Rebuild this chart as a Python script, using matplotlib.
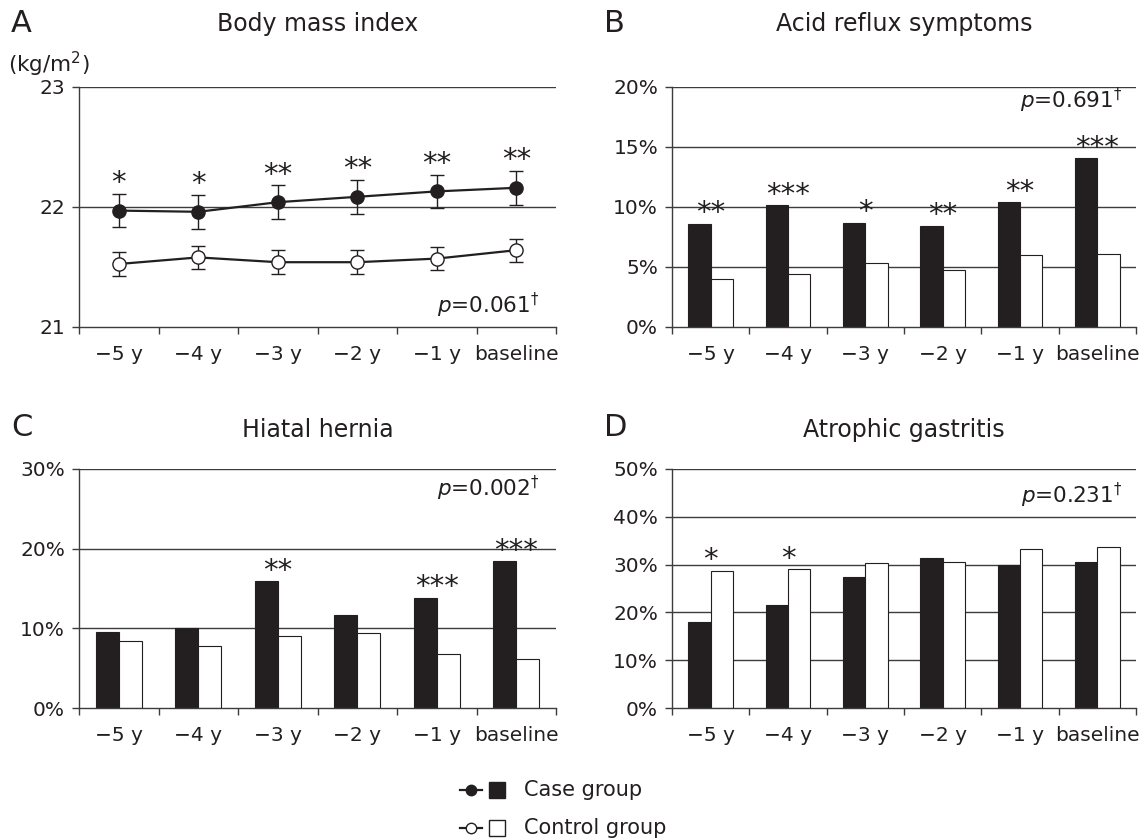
import numpy as np
import matplotlib
matplotlib.use("Agg")
import matplotlib.pyplot as plt
from matplotlib.lines import Line2D
from matplotlib.patches import Rectangle

# ---------------- data ----------------
categories = ["\u22125 y", "\u22124 y", "\u22123 y", "\u22122 y", "\u22121 y", "baseline"]

bmi_case = [21.97, 21.96, 22.04, 22.085, 22.13, 22.16]
bmi_case_err = [0.14, 0.14, 0.14, 0.14, 0.14, 0.14]
bmi_ctrl = [21.525, 21.58, 21.54, 21.54, 21.57, 21.64]
bmi_ctrl_err = [0.10, 0.095, 0.10, 0.10, 0.093, 0.096]
bmi_stars = ["*", "*", "**", "**", "**", "**"]

reflux_case = [8.6, 10.14, 8.7, 8.44, 10.39, 14.06]
reflux_ctrl = [4.0, 4.44, 5.36, 4.72, 5.97, 6.11]
reflux_stars = ["**", "***", "*", "**", "**", "***"]

hernia_case = [9.49, 10.0, 15.88, 11.62, 13.79, 18.39]
hernia_ctrl = [8.4, 7.77, 8.98, 9.4, 6.73, 6.1]
hernia_stars = ["", "", "**", "", "***", "***"]

atroph_case = [17.9, 21.6, 27.4, 31.3, 29.9, 30.6]
atroph_ctrl = [28.7, 29.0, 30.3, 30.6, 33.2, 33.6]
atroph_stars = ["*", "*", "", "", "", ""]

p_texts = ["0.061", "0.691", "0.002", "0.231"]
titles = ["Body mass index", "Acid reflux symptoms", "Hiatal hernia", "Atrophic gastritis"]
letters = ["A", "B", "C", "D"]

# ---------------- style ----------------
INK = "#231f20"
GRID = "#3c3c3c"
W, H = 1144, 840
TICK_FS = 14.5
plt.rcParams["font.family"] = ["DejaVu Sans"]
plt.rcParams["mathtext.fontset"] = "dejavusans"
plt.rcParams["text.color"] = INK

fig = plt.figure(figsize=(W / 100, H / 100), dpi=100)
fig.patch.set_facecolor("white")


def px_axes(left, top, right, bottom):
    return fig.add_axes([left / W, 1 - bottom / H, (right - left) / W, (bottom - top) / H])


def style_axes(ax, yticks, ylabels):
    n = len(categories)
    ax.set_xlim(0, n)
    ax.set_ylim(yticks[0], yticks[-1])
    ax.set_yticks(yticks)
    ax.set_yticklabels(ylabels, fontsize=TICK_FS, color=INK)
    ax.set_xticks(np.arange(n + 1))
    ax.set_xticklabels([])
    ax.set_xticks(np.arange(n) + 0.5, minor=True)
    ax.set_xticklabels(categories, minor=True, fontsize=TICK_FS, color=INK)
    ax.tick_params(axis="x", which="major", direction="out", length=5, width=1, color=GRID)
    ax.tick_params(axis="x", which="minor", length=0, pad=13)
    ax.tick_params(axis="y", direction="out", length=5, width=1, color=GRID, pad=5)
    for s in ["top", "right"]:
        ax.spines[s].set_visible(False)
    for s in ["left", "bottom"]:
        ax.spines[s].set_color(GRID)
        ax.spines[s].set_linewidth(1.0)
    for y in yticks[1:]:
        ax.axhline(y, color=GRID, lw=1.0, zorder=0.5)
    ax.set_axisbelow(True)


def add_stars(ax, xs, tops, stars):
    for x, t, s in zip(xs, tops, stars):
        if s:
            ax.annotate(s, (x, t), xytext=(0, 2), textcoords="offset points",
                        ha="center", va="baseline", fontsize=21, color=INK, zorder=5)


def bar_panel(ax, case, ctrl, stars, yticks, ylabels):
    style_axes(ax, yticks, ylabels)
    x = np.arange(len(categories)) + 0.5
    w = 0.29
    ax.bar(x - w / 2, case, w, color=INK, edgecolor=INK, lw=0.8, zorder=2)
    ax.bar(x + w / 2, ctrl, w, color="white", edgecolor=INK, lw=0.8, zorder=2)
    add_stars(ax, x, np.maximum(case, ctrl), stars)


# ---------------- panels ----------------
axA = px_axes(79, 87, 556, 327)
axB = px_axes(672, 87, 1136, 327)
axC = px_axes(79, 469, 556, 708)
axD = px_axes(672, 469, 1136, 708)

# A: BMI line chart
style_axes(axA, [21, 22, 23], ["21", "22", "23"])
xA = np.arange(len(categories)) + 0.5
axA.errorbar(xA, bmi_case, yerr=bmi_case_err, color=INK, lw=1.6, marker="o", ms=9.5,
             mfc=INK, mec=INK, capsize=5, elinewidth=1.0, capthick=1.0, zorder=3)
axA.errorbar(xA, bmi_ctrl, yerr=bmi_ctrl_err, color=INK, lw=1.6, marker="o", ms=9.5,
             mfc="white", mec=INK, mew=1.0, capsize=5, elinewidth=1.0, capthick=1.0, zorder=3)
add_stars(axA, xA, np.array(bmi_case) + np.array(bmi_case_err), bmi_stars)

bar_panel(axB, reflux_case, reflux_ctrl, reflux_stars, [0, 5, 10, 15, 20],
          ["0%", "5%", "10%", "15%", "20%"])
bar_panel(axC, hernia_case, hernia_ctrl, hernia_stars, [0, 10, 20, 30],
          ["0%", "10%", "20%", "30%"])
bar_panel(axD, atroph_case, atroph_ctrl, atroph_stars, [0, 10, 20, 30, 40, 50],
          ["0%", "10%", "20%", "30%", "40%", "50%"])

# p-values
p_pos = [(axA, 0.966, 0.092), (axB, 0.970, 0.946), (axC, 0.966, 0.92), (axD, 0.970, 0.891)]
for (ax, px, py), pt in zip(p_pos, p_texts):
    ax.text(px, py, r"$p$=" + pt + r"$^{\dagger}$", transform=ax.transAxes,
            ha="right", va="center", fontsize=15.5, color=INK)

# titles and panel letters (pixel rows)
title_rows = [24, 24, 430, 430]
letter_rows = [24, 24, 427, 427]
for ax, t, L, ty, ly in zip([axA, axB, axC, axD], titles, letters, title_rows, letter_rows):
    bb = ax.get_position()
    fig.text((bb.x0 + bb.x1) / 2, 1 - ty / H, t, ha="center", va="center",
             fontsize=17, color=INK)
    fig.text(bb.x0 - 68 / W, 1 - ly / H, L, ha="left", va="center",
             fontsize=22, color=INK)

fig.text(8 / W, 1 - 64 / H, "(kg/m$^2$)", ha="left", va="center", fontsize=15.5, color=INK)

# ---------------- legend ----------------
lg = fig.add_axes([0, 0, 1, 1], facecolor="none")
lg.set_xlim(0, W)
lg.set_ylim(H, 0)
lg.axis("off")
legend_labels = ["Case group", "Control group"]
legend_fill = [INK, "white"]
for i, (lab, fc) in enumerate(zip(legend_labels, legend_fill)):
    yc = 790 + 38 * i
    lg.add_line(Line2D([460, 482], [yc, yc], color=INK, lw=1.6))
    lg.add_line(Line2D([471], [yc], marker="o", ms=7.5, mfc=fc, mec=INK, mew=1.0))
    lg.add_patch(Rectangle((489, yc - 8), 16, 16, facecolor=fc, edgecolor=INK, lw=1.0))
    lg.text(524, yc, lab, ha="left", va="center", fontsize=15, color=INK)

fig.savefig("out.png", dpi=100, facecolor="white")
